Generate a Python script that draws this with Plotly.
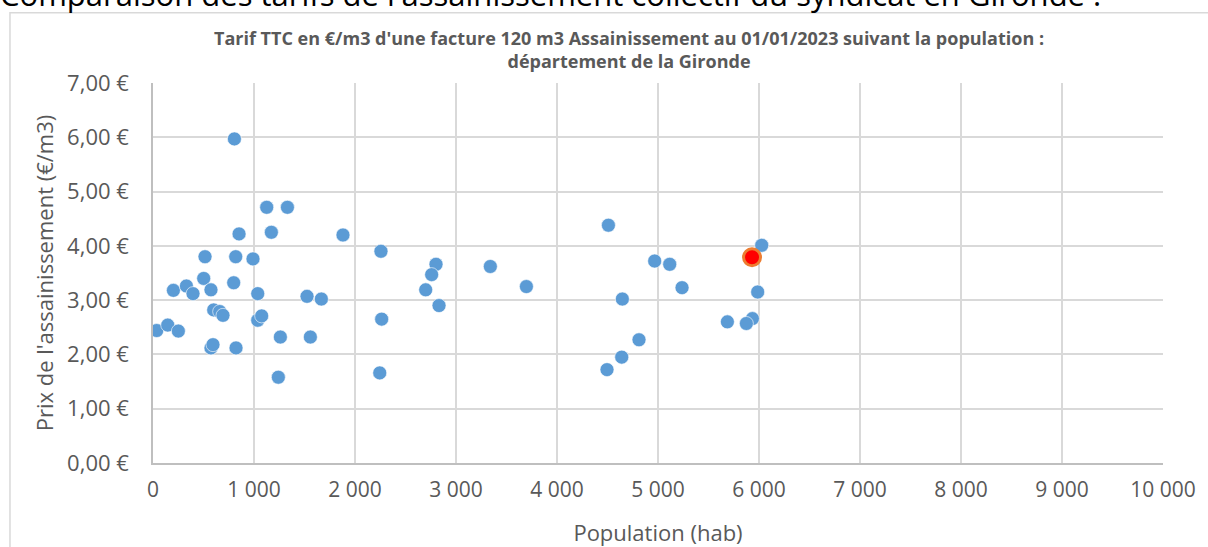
import plotly.graph_objects as go

BLUE = "#5b9bd5"
INK = "#595959"
GRID = "#d9d9d9"
FONT = "Open Sans, Arial, sans-serif"

# communes du syndicat (population, prix €/m3)
population = [806, 1126, 1331, 852, 1172, 1881, 2257, 515, 819, 990,
              2802, 2759, 502, 799, 202, 331, 396, 574, 1037, 1525,
              1667, 2700, 2832, 601, 660, 693, 1037, 1076, 2264, 37,
              146, 251, 1261, 1558, 574, 594, 822, 1241, 2245,
              4509, 3340, 3697, 4967, 5116, 5238, 4647, 5687, 4812, 4641,
              4495, 6027, 5987, 5935, 5875]
prix = [5.97, 4.71, 4.71, 4.22, 4.25, 4.20, 3.90, 3.80, 3.80, 3.76,
        3.66, 3.47, 3.40, 3.32, 3.18, 3.26, 3.12, 3.19, 3.12, 3.07,
        3.02, 3.19, 2.90, 2.82, 2.79, 2.72, 2.63, 2.71, 2.65, 2.44,
        2.54, 2.43, 2.32, 2.32, 2.12, 2.18, 2.12, 1.58, 1.66,
        4.38, 3.62, 3.25, 3.72, 3.66, 3.23, 3.02, 2.60, 2.27, 1.95,
        1.72, 4.01, 3.15, 2.66, 2.57]

# le syndicat mis en évidence
syndicat_pop = [5931]
syndicat_prix = [3.79]

x_ticks = list(range(0, 10001, 1000))
x_labels = ["0"] + [f"{v // 1000} 000" for v in x_ticks[1:]]
y_ticks = [0, 1, 2, 3, 4, 5, 6, 7]
y_labels = [f"{v},00 €" for v in y_ticks]

fig = go.Figure()
fig.add_trace(go.Scatter(
    x=population, y=prix, mode="markers",
    marker=dict(size=14, color=BLUE, line=dict(color="white", width=0.6)),
    hovertemplate="%{x} hab : %{y:.2f} €<extra></extra>"))
fig.add_trace(go.Scatter(
    x=syndicat_pop, y=syndicat_prix, mode="markers",
    marker=dict(size=17, color="#ff0000", line=dict(color="#ed7d31", width=3)),
    hovertemplate="%{x} hab : %{y:.2f} €<extra></extra>"))

fig.update_xaxes(range=[0, 10000], tickvals=x_ticks, ticktext=x_labels, automargin=False,
                 showgrid=True, gridcolor=GRID, gridwidth=1.5, zeroline=False,
                 showline=True, linecolor="#bfbfbf", linewidth=1.5,
                 tickfont=dict(size=21, color=INK), ticklabelstandoff=7,
                 title=dict(text="Population (hab)", font=dict(size=22, color=INK), standoff=25))
fig.update_yaxes(range=[0, 7], tickvals=y_ticks, ticktext=y_labels, automargin=False,
                 showgrid=True, gridcolor=GRID, gridwidth=1.5, zeroline=False,
                 showline=True, linecolor="#bfbfbf", linewidth=1.5,
                 tickfont=dict(size=22, color=INK), ticklabelstandoff=18,
                 title=dict(text="Prix de l'assainissement (€/m3)", font=dict(size=22, color=INK), standoff=7))

fig.update_layout(
    width=1208, height=547,
    margin=dict(l=153, r=45, t=83, b=84),
    paper_bgcolor="white", plot_bgcolor="white",
    font=dict(family=FONT, color=INK),
    showlegend=False,
    shapes=[dict(type="rect", xref="paper", yref="paper",
                 x0=-0.1416, x1=1.2, y0=-0.4, y1=1.185,
                 line=dict(color=GRID, width=1.5), layer="below")],
    annotations=[
        dict(text="<b>Tarif TTC en €/m3 d'une facture 120 m3 Assainissement au 01/01/2023 suivant la population :</b>"
                  "<br><b>département de la Gironde</b>",
             xref="paper", yref="paper", x=0.471, y=1.156, xanchor="center", yanchor="top",
             showarrow=False, align="center", font=dict(size=18, color=INK, family=FONT)),
        dict(text="Comparaison des tarifs de l'assainissement collectif du syndicat en Gironde :",
             xref="paper", yref="paper", x=-0.153, y=1.1736, xanchor="left", yanchor="bottom",
             showarrow=False, font=dict(size=31, color="black", family=FONT)),
    ],
)

# la page est photographiée sans la marge par défaut du <body>
fig.write_html("out.html", config={"displayModeBar": False},
               post_script="document.body.style.margin='0px';")
